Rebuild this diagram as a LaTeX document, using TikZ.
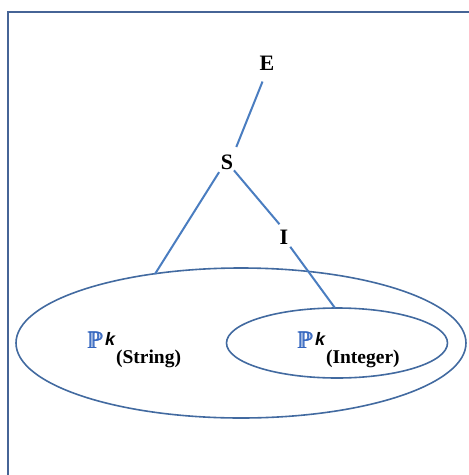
\documentclass[tikz,border=0pt]{standalone}
\usepackage{amssymb}
\usepackage{fontspec}
\setmainfont{Liberation Serif}
\setsansfont{Liberation Sans}
\usetikzlibrary{shapes.geometric}
\definecolor{linecol}{RGB}{74,125,192}
\definecolor{ellcol}{RGB}{66,106,160}
\definecolor{framecol}{RGB}{70,100,150}
\definecolor{pblue}{RGB}{50,100,190}
\tikzset{
  lbl/.style={inner sep=0pt, font=\fontsize{22}{22}\selectfont\bfseries},
  conn/.style={draw=linecol, line width=2pt},
  setell/.style={ellipse, draw=ellcol, line width=1.6pt, inner sep=0pt},
  plabel/.style={inner sep=0pt, anchor=base west}
}
\newcommand{\boldbbP}{\rlap{$\mathbb{P}$}\hspace{0.6pt}\rlap{$\mathbb{P}$}\hspace{0.6pt}$\mathbb{P}$}
\newcommand{\plbl}[1]{{\color{pblue}\fontsize{24}{24}\selectfont\boldbbP}\hspace{2pt}\raisebox{3pt}{\fontsize{18}{18}\selectfont\sffamily\bfseries\itshape k}\hspace{1pt}\raisebox{-15pt}{\fontsize{19.5}{19.5}\selectfont\bfseries #1}}
\begin{document}
\begin{tikzpicture}[x=1pt,y=-1pt]
\useasboundingbox (0,0) rectangle (469,475);
% frame
\draw[framecol, line width=2.2pt] (8,476) -- (8,12) -- (470,12);
% ellipses
\node[setell, minimum width=450pt, minimum height=150pt] (outer) at (241,343) {};
\node[setell, minimum width=221pt, minimum height=70pt] (inner) at (337,343) {};
% tree labels
\node[lbl] (E) at (267,63) {E};
\node[lbl] (S) at (227,162) {S};
\node[lbl] (I) at (284,237) {I};
\coordinate (oa) at (155,274);
\coordinate (ia) at (335,308);
% connectors
\draw[conn, shorten <=8pt, shorten >=12pt] (S.north east) -- (E.south);
\draw[conn, shorten <=3pt] (S.south west) -- (oa);
\draw[conn, shorten <=1pt, shorten >=7pt] (S.south east) -- (I.north);
\draw[conn, shorten <=3pt] (I.south east) -- (ia);
% set labels
\node[plabel] (pstr) at (87,348) {\plbl{(String)}};
\node[plabel] (pint) at (297,348) {\plbl{(Integer)}};
\end{tikzpicture}
\end{document}
